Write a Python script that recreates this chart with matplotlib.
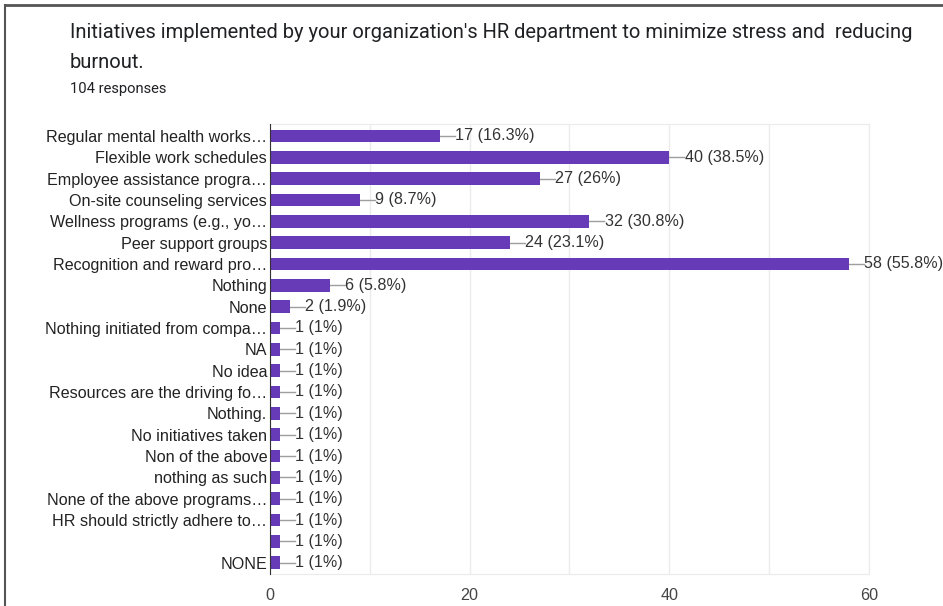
import matplotlib.pyplot as plt
from matplotlib.lines import Line2D
import numpy as np

# Survey responses
total = 104
options = ['Regular mental health works…', 'Flexible work schedules', 'Employee assistance progra…',
           'On-site counseling services', 'Wellness programs (e.g., yo…', 'Peer support groups',
           'Recognition and reward pro…', 'Nothing', 'None', 'Nothing initiated from compa…',
           'NA', 'No idea', 'Resources are the driving fo…', 'Nothing.', 'No initiatives taken',
           'Non of the above', 'nothing as such', 'None of the above programs…',
           'HR should strictly adhere to…', '', 'NONE']
counts = [17, 40, 27, 9, 32, 24, 58, 6, 2, 1, 1, 1, 1, 1, 1, 1, 1, 1, 1, 1, 1]
xticks = [0, 20, 40, 60]

purple = '#673ab7'
label_font = 'Liberation Sans'

fig = plt.figure(figsize=(9.43, 6.06), dpi=100)
ax = fig.add_axes([0.2863, 0.0528, 0.9215 - 0.2863, 0.7954 - 0.0528])

y = np.arange(len(options))
ax.barh(y, counts, height=0.6, color=purple, zorder=3)

# value labels with short connector lines
for yi, c in zip(y, counts):
    pct = round(c / total * 100, 1)
    pct_txt = f'{pct:g}'
    ax.plot([c, c + 1.5], [yi, yi], color='#9e9e9e', lw=1, zorder=2, clip_on=False)
    ax.text(c + 1.55, yi, f'{c} ({pct_txt}%)', va='center', ha='left',
            fontsize=11.6, color='#333333', family=label_font)

ax.set_xlim(0, 60)
ax.set_ylim(len(options) - 0.47, -0.56)
ax.set_yticks(y)
ax.set_yticklabels(options, fontsize=11.6, color='#222222', family=label_font)
ax.set_xticks(xticks)
ax.set_xticks([10, 30, 50], minor=True)
ax.set_xticklabels([str(t) for t in xticks], fontsize=11.6, color='#444444', family=label_font)
ax.tick_params(axis='both', which='both', length=0)
ax.tick_params(axis='x', pad=10)
ax.tick_params(axis='y', pad=2)
ax.grid(axis='x', which='both', color='#ebebeb', lw=1, zorder=0)

for side in ['top', 'right', 'bottom']:
    ax.spines[side].set_color('#ebebeb')
ax.spines['left'].set_color('#333333')
ax.spines['left'].set_zorder(4)

fig.text(70 / 943, 1 - 32 / 606,
         "Initiatives implemented by your organization's HR department to minimize stress and  reducing",
         fontsize=14.5, color='#202124', family='Roboto', va='center')
fig.text(70 / 943, 1 - 63 / 606, 'burnout.', fontsize=14.5, color='#202124', family='Roboto', va='center')
fig.text(70 / 943, 1 - 89 / 606, '104 responses', fontsize=10.6, color='#202124', family='Roboto', va='center')

# outer frame on top and left edges
fig.add_artist(Line2D([5 / 943, 1], [1 - 5 / 606, 1 - 5 / 606], color='#555555', lw=2))
fig.add_artist(Line2D([5 / 943, 5 / 943], [0, 1 - 5 / 606], color='#555555', lw=1.5))

fig.savefig('out.png', dpi=100)
